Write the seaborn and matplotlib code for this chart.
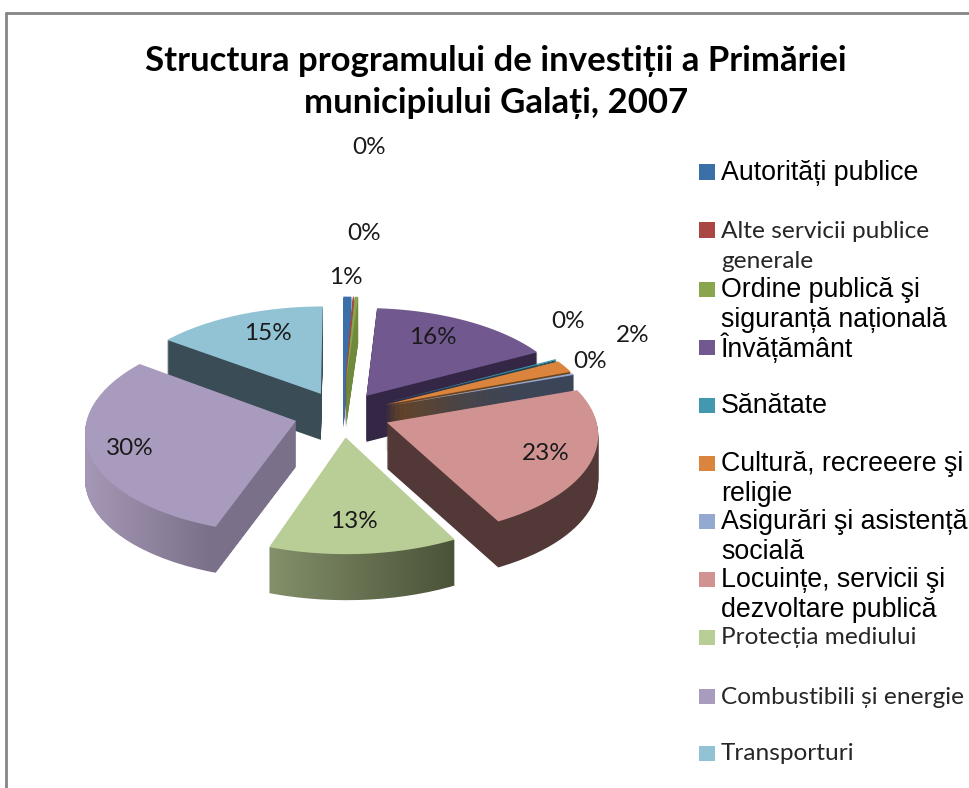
import warnings
warnings.filterwarnings('ignore')
import numpy as np
import matplotlib
matplotlib.use('Agg')
import matplotlib.pyplot as plt
import matplotlib.transforms as mtransforms
from matplotlib.colors import LinearSegmentedColormap
from matplotlib.lines import Line2D
from matplotlib.patches import Rectangle
from matplotlib.path import Path
import seaborn as sns

sns.set_theme(style='white')

categories = ['Autorități publice', 'Alte servicii publice\ngenerale',
              'Ordine publică şi\nsiguranță națională', 'Învățământ', 'Sănătate',
              'Cultură, recreeere şi\nreligie', 'Asigurări şi asistență\nsocială',
              'Locuințe, servicii şi\ndezvoltare publică', 'Protecția mediului',
              'Combustibili și energie', 'Transporturi']
values = [0.7, 0.1, 0.3, 16.1, 0.2, 2, 0.3, 22.7, 13, 29.9, 14.9]
top_colors = ['#3B6FA8', '#AA4643', '#89A54E', '#71588F', '#4198AF', '#DB843D',
              '#93A9CF', '#D19392', '#B9CD96', '#A99BBD', '#92C3D4']
wall_colors = ['#3B6FA8', '#AA4643', '#6F8A3C', '#332745', '#1F4A55', '#6B4420',
               '#3C4558', '#533838', '#6A7550', '#7D7290', '#3A4D56']
explode = [0.33, 0.33, 0.33, 0.22, 0.23, 0.23, 0.23, 0.23, 0.23, 0.23, 0.23]
title = 'Structura programului de investiții a Primăriei\nmunicipiului Galați, 2007'

# layout, pixels of the 970x788 picture
W, H = 970, 788
CX, CY, RX, RY = 342, 414, 208, 100
DEPTH = 46
TILT = 0.1
draw_rank = [1, 1, 1, 2, 3, 3, 3, 4, 6, 5, 0]
pct_pos = [(346, 278), (364, 233), (369, 148), (433, 338), (568, 321), (633, 335),
           (590, 362), (546, 453), (354, 521), (130, 448), (268, 334)]
legend_y = [172, 230, 289, 347, 405, 463, 521, 579, 637, 696, 753]
lato_rows = [1, 8, 9, 10]
gradients = {8: ['#83906A', '#4A5238'], 9: ['#A598B6', '#7B7089']}


class Tilt(mtransforms.Transform):
    # back of the pie gets smaller, front gets bigger
    input_dims = 2
    output_dims = 2

    def transform_non_affine(self, xy):
        xy = np.asarray(xy)
        s = 1 / (1 + TILT * xy[:, 1])
        return np.column_stack([xy[:, 0] * s, xy[:, 1] * s])

    def transform_path_non_affine(self, path):
        polys = path.transformed(mtransforms.Affine2D().scale(400)).to_polygons(closed_only=True)
        parts = [Path(self.transform_non_affine(p / 400)) for p in polys]
        return Path.make_compound_path(*parts)


def fx(x):
    return x / W


def fy(y):
    return 1 - y / H


fig = plt.figure(figsize=(W / 100, H / 100), dpi=100, facecolor='white')
ax = fig.add_axes([0, 0, 1, 1])

pie_args = dict(explode=explode, startangle=90, counterclock=False,
                wedgeprops=dict(linewidth=0, edgecolor='none'))
gradient_wedges = {k: [] for k in gradients}

# walls: the same pie again and again, moved down one pixel at a time
for dz in range(DEPTH, 0, -1):
    wedges, _ = ax.pie(values, colors=sns.color_palette(wall_colors), **pie_args)
    for i, w in enumerate(wedges):
        w.set_transform(Tilt() + ax.transData + mtransforms.Affine2D().translate(0, -dz))
        w.set_zorder(draw_rank[i] + 0.4 - dz * 0.001)
        if i in gradients:
            gradient_wedges[i].append(w)
            w.set_visible(False)

wedges, _, autotexts = ax.pie(values, colors=sns.color_palette(top_colors), autopct='%.0f%%', **pie_args)
for i, w in enumerate(wedges):
    w.set_transform(Tilt() + ax.transData)
    w.set_zorder(draw_rank[i] + 0.8)

ax.set_aspect('auto')
x0, x1 = -CX / RX, (W - CX) / RX
y0, y1 = -(H - CY) / RY, CY / RY
ax.set_xlim(x0, x1)
ax.set_ylim(y0, y1)

# horizontal shading on the two front walls
for i, cols in gradients.items():
    cmap = LinearSegmentedColormap.from_list('wall%d' % i, cols)
    paths = [w.get_transform().transform_path(w.get_path()) for w in gradient_wedges[i]]
    path = Path.make_compound_path(*paths)
    left, right = path.vertices[:, 0].min(), path.vertices[:, 0].max()
    if i == 9:
        right = 212
    img = ax.imshow(np.linspace(0, 1, 128).reshape(1, -1), cmap=cmap, aspect='auto',
                    extent=((left - CX) / RX, (right - CX) / RX, y0, y1), zorder=draw_rank[i] + 0.5)
    img.set_clip_path(path, mtransforms.IdentityTransform())
    if i == 9:
        img2 = ax.imshow(np.ones((1, 2)), cmap=cmap, vmin=0, vmax=1, aspect='auto',
                         extent=((right - CX) / RX, (330 - CX) / RX, y0, y1), zorder=draw_rank[i] + 0.5)
        img2.set_clip_path(path, mtransforms.IdentityTransform())

ax.set_xlim(x0, x1)
ax.set_ylim(y0, y1)
ax.axis('off')

for t, (px, py) in zip(autotexts, pct_pos):
    t.set_transform(fig.transFigure)
    t.set_position((fx(px), fy(py)))
    t.set_ha('center')
    t.set_va('center')
    t.set_family('Lato')
    t.set_fontsize(17.5)
    t.set_color('#1a1a1a')
    t.set_zorder(20)

fig.text(fx(496), fy(82), title, ha='center', va='center', family='Lato', fontweight='bold',
         fontsize=25, color='black', linespacing=1.42)

# legend rows have fixed spacing, whatever the line count
for i, label in enumerate(categories):
    fig.add_artist(Rectangle((fx(699), fy(legend_y[i] + 7.5)), 16 / W, 15 / H, transform=fig.transFigure,
                             facecolor=top_colors[i], edgecolor='none'))
    for j, line in enumerate(label.split('\n')):
        if i in lato_rows:
            fig.text(fx(721), fy(legend_y[i] + 1 + j * 31), line, family='Lato', fontsize=17.6,
                     color='#262626', va='center')
        else:
            fig.text(fx(721), fy(legend_y[i] + 1 + j * 30), line, family='Liberation Sans', fontsize=19.3,
                     color='black', va='center')

# grey frame, only top and left are in the crop
fig.add_artist(Line2D([fx(6.5), 1], [fy(12.5), fy(12.5)], color='#858585', lw=2, transform=fig.transFigure))
fig.add_artist(Line2D([fx(6.5), fx(6.5)], [fy(12.5), 0], color='#858585', lw=2, transform=fig.transFigure))

fig.savefig('out.png', dpi=100, facecolor='white')
